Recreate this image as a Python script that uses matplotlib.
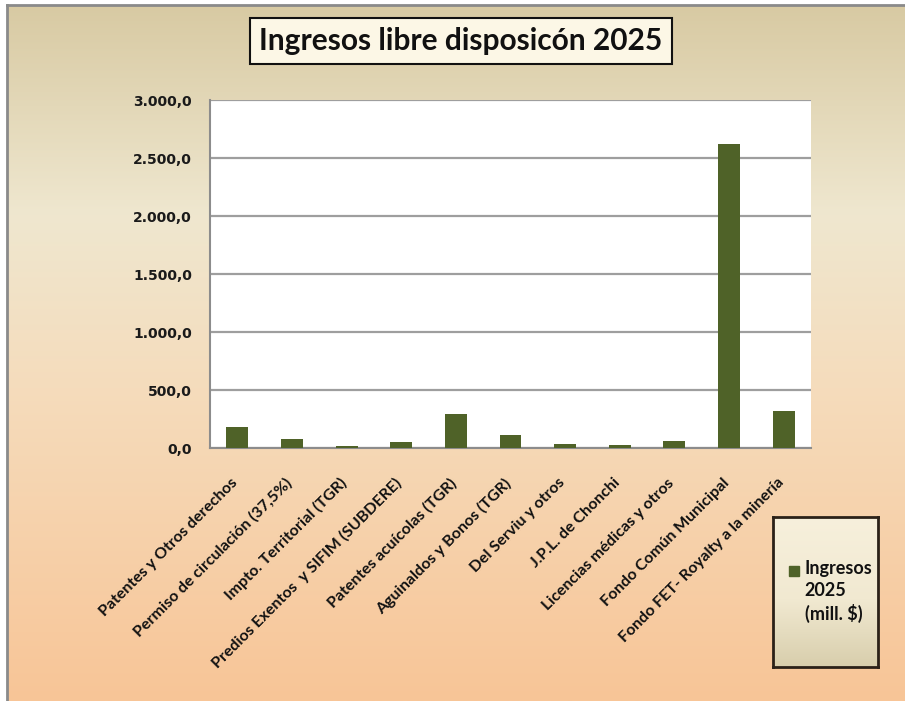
import numpy as np
import matplotlib.pyplot as plt
from matplotlib.colors import LinearSegmentedColormap
from matplotlib.ticker import FuncFormatter
from matplotlib.transforms import ScaledTranslation

categorias = ['Patentes y Otros derechos', 'Permiso de circulación (37,5%)',
              'Impto. Territorial (TGR)', 'Predios Exentos  y SIFIM (SUBDERE)',
              'Patentes acuícolas (TGR)', 'Aguinaldos y Bonos (TGR)',
              'Del Serviu y otros', 'J.P.L. de Chonchi', 'Licencias médicas y otros',
              'Fondo Común Municipal', 'Fondo FET- Royalty a la minería']
ingresos = [177, 80, 14, 52, 293, 108, 34, 22, 60, 2621, 321]
serie = 'Ingresos\n2025\n(mill. $)'

W, H = 905, 701
fig = plt.figure(figsize=(W / 100, H / 100), dpi=100)
fig.patch.set_facecolor('white')

# fondo degradado
bg = fig.add_axes([7 / W, 0, 1 - 7 / W, 1 - 5 / H])
cmap_bg = LinearSegmentedColormap.from_list('bg', [
    (0.0, '#d8caa3'), (0.30, '#efe7cf'), (0.55, '#f5dcbc'), (1.0, '#f8c597')])
bg.imshow(np.linspace(0, 1, 256).reshape(-1, 1), aspect='auto', cmap=cmap_bg,
          extent=[0, 1, 0, 1], origin='upper')
bg.set_axis_off()
fig.add_artist(plt.Line2D([6.5 / W, 1], [1 - 4.5 / H, 1 - 4.5 / H], color='#8a8a8a', lw=2))
fig.add_artist(plt.Line2D([6.5 / W, 6.5 / W], [0, 1 - 4.5 / H], color='#8a8a8a', lw=2))

ax = fig.add_axes([210 / W, 1 - 448 / H, 601 / W, 348 / H])
x = np.arange(len(categorias))
ax.bar(x, ingresos, width=0.4, color='#4f6228', zorder=3)
ax.set_xlim(-0.5, len(categorias) - 0.5)
ax.set_ylim(0, 3000)
ax.set_yticks(np.arange(0, 3001, 500))
ax.yaxis.set_major_formatter(FuncFormatter(
    lambda v, p: f'{v:,.1f}'.replace(',', 'X').replace('.', ',').replace('X', '.')))
ax.grid(axis='y', color='#9e9e9e', lw=1.6, zorder=1)
ax.set_axisbelow(True)
for s in ['top', 'right']:
    ax.spines[s].set_visible(False)
for s in ['left', 'bottom']:
    ax.spines[s].set_color('#8c8c8c')
    ax.spines[s].set_linewidth(1.5)
ax.tick_params(axis='y', length=0, pad=13)
ax.tick_params(axis='x', length=0, pad=20)
for lab in ax.get_yticklabels():
    lab.set_fontweight('bold')
    lab.set_fontsize(10)
    lab.set_color('#1a1a1a')
ax.set_xticks(x)
ax.set_xticklabels(categorias, rotation=45, ha='right', va='top',
                   rotation_mode='anchor', fontsize=11.5, fontweight='bold',
                   family='Lato', color='#111111')
# etiquetas un poco a la izquierda, como en el original
desplaz = ScaledTranslation(-0.07, 0, fig.dpi_scale_trans)
for lab in ax.get_xticklabels():
    lab.set_transform(lab.get_transform() + desplaz)

# titulo
fig.text(461 / W, 1 - 41 / H, 'Ingresos libre disposicón 2025', ha='center', va='center',
         fontsize=21.5, fontweight='bold', family='Lato', color='#111111',
         bbox=dict(boxstyle='square,pad=0.3', facecolor='#fcf7e6', edgecolor='#111111', lw=1.5))

# leyenda
lg = fig.add_axes([773 / W, 1 - 667 / H, 105 / W, 150 / H])
cmap_lg = LinearSegmentedColormap.from_list('lg', [
    (0.0, '#f7f0dc'), (0.55, '#f1e9d1'), (1.0, '#d8ceac')])
lg.imshow(np.linspace(0, 1, 256).reshape(-1, 1), aspect='auto', cmap=cmap_lg,
          extent=[0, 1, 0, 1], origin='upper')
lg.set_xlim(0, 1)
lg.set_ylim(0, 1)
lg.set_xticks([])
lg.set_yticks([])
for s in lg.spines.values():
    s.set_color('#2b2118')
    s.set_linewidth(2)
lg.add_patch(plt.Rectangle((0.15, 0.605), 0.1, 0.07, color='#4f6228'))
lg.text(0.30, 0.715, serie, ha='left', va='top', fontsize=13, fontweight='bold',
        family='Lato', color='#111111', linespacing=1.35)

fig.savefig('out.png', dpi=100)
